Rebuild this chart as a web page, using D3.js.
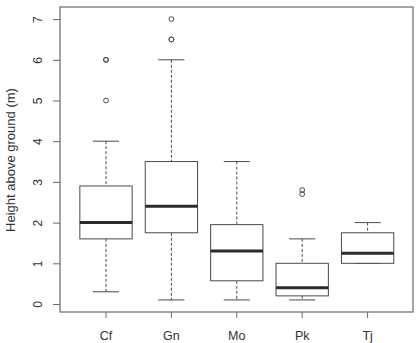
<!DOCTYPE html>
<html>
<head>
<meta charset="utf-8">
<script src="https://cdn.jsdelivr.net/npm/d3@7"></script>
<style>
  body { margin: 0; background: #fff; }
  svg { display: block; font-family: "Liberation Sans", Arial, sans-serif; }
</style>
</head>
<body>
<svg width="417" height="343"></svg>
<script>
"use strict";

// 구간별 상자그림 값
const categories = ["Cf", "Gn", "Mo", "Pk", "Tj"];
const whiskerLow = [0.3, 0.1, 0.1, 0.1, 1.0];
const q1 = [1.6, 1.75, 0.57, 0.2, 1.0];
const medians = [2.0, 2.4, 1.3, 0.4, 1.25];
const q3 = [2.9, 3.5, 1.95, 1.0, 1.75];
const whiskerHigh = [4.0, 6.0, 3.5, 1.6, 2.0];
// 이상치 [category, value]
const outliers = [
  ["Cf", 6.0], ["Cf", 6.0], ["Cf", 5.0],
  ["Gn", 7.0], ["Gn", 6.5], ["Gn", 6.5],
  ["Pk", 2.8], ["Pk", 2.7]
];
const yTicks = [0, 1, 2, 3, 4, 5, 6, 7];

const boxes = categories.map((c, i) => ({
  cat: c, lo: whiskerLow[i], q1: q1[i], med: medians[i], q3: q3[i], hi: whiskerHigh[i]
}));

const svg = d3.select("svg");
const plot = { left: 60, right: 413, top: 7, bottom: 312 };
const lineCol = "#4a4a4a";

const x = d3.scaleBand().domain(categories).range([73.3, 400.3]);
const y = d3.scaleLinear().domain([0, 7]).range([304, 19.1]);
const boxW = x.bandwidth() * 0.8;
const cx = (c) => x(c) + x.bandwidth() / 2;

// 바깥 테두리
svg.append("rect")
  .attr("x", plot.left).attr("y", plot.top)
  .attr("width", plot.right - plot.left).attr("height", plot.bottom - plot.top)
  .attr("fill", "none").attr("stroke", "#6a6a6a").attr("stroke-width", 1.2);

// y축
const yAxis = svg.append("g")
  .attr("transform", `translate(${plot.left},0)`)
  .call(d3.axisLeft(y).tickValues(yTicks).tickFormat(d3.format("d"))
    .tickSize(7).tickSizeOuter(0).tickPadding(0));
yAxis.select(".domain").remove();
yAxis.selectAll(".tick line").attr("stroke", "#6a6a6a");
yAxis.selectAll(".tick text")
  .attr("x", 0).attr("dy", null)
  .attr("transform", "translate(-22,0) rotate(-90)")
  .attr("text-anchor", "middle")
  .attr("dominant-baseline", "central")
  .attr("fill", "#333").style("font-size", "12px");

// x축
const xAxis = svg.append("g")
  .attr("transform", `translate(0,${plot.bottom})`)
  .call(d3.axisBottom(x).tickSize(6).tickSizeOuter(0).tickPadding(13));
xAxis.select(".domain").remove();
xAxis.selectAll(".tick line").attr("stroke", "#6a6a6a");
xAxis.selectAll(".tick text").attr("fill", "#333").style("font-size", "12.5px");

// y축 제목
svg.append("text")
  .attr("transform", "translate(10,160) rotate(-90)")
  .attr("text-anchor", "middle")
  .attr("dominant-baseline", "central")
  .attr("fill", "#333").style("font-size", "13px")
  .text("Height above ground (m)");

const g = svg.selectAll("g.box").data(boxes).enter().append("g").attr("class", "box");

// 수염 (점선)
g.append("line")
  .attr("x1", (d) => cx(d.cat)).attr("x2", (d) => cx(d.cat))
  .attr("y1", (d) => y(d.hi)).attr("y2", (d) => y(d.q3))
  .attr("stroke", lineCol).attr("stroke-dasharray", "3,2");
g.append("line")
  .attr("x1", (d) => cx(d.cat)).attr("x2", (d) => cx(d.cat))
  .attr("y1", (d) => y(d.q1)).attr("y2", (d) => y(d.lo))
  .attr("stroke", lineCol).attr("stroke-dasharray", "3,2");

// 수염 끝
["hi", "lo"].forEach((k) => {
  g.append("line")
    .attr("x1", (d) => cx(d.cat) - boxW / 4).attr("x2", (d) => cx(d.cat) + boxW / 4)
    .attr("y1", (d) => y(d[k])).attr("y2", (d) => y(d[k]))
    .attr("stroke", lineCol);
});

// 상자
g.append("rect")
  .attr("x", (d) => cx(d.cat) - boxW / 2)
  .attr("y", (d) => y(d.q3))
  .attr("width", boxW)
  .attr("height", (d) => y(d.q1) - y(d.q3))
  .attr("fill", "#fff").attr("stroke", lineCol);

// 중앙값
g.append("line")
  .attr("x1", (d) => cx(d.cat) - boxW / 2).attr("x2", (d) => cx(d.cat) + boxW / 2)
  .attr("y1", (d) => y(d.med)).attr("y2", (d) => y(d.med))
  .attr("stroke", "#2a2a2a").attr("stroke-width", 3);

// 이상치
svg.selectAll("circle.out").data(outliers).enter().append("circle")
  .attr("class", "out")
  .attr("cx", (d) => cx(d[0]))
  .attr("cy", (d) => y(d[1]))
  .attr("r", 2.4)
  .attr("fill", "none").attr("stroke", lineCol).attr("stroke-width", 1);
</script>
</body>
</html>
